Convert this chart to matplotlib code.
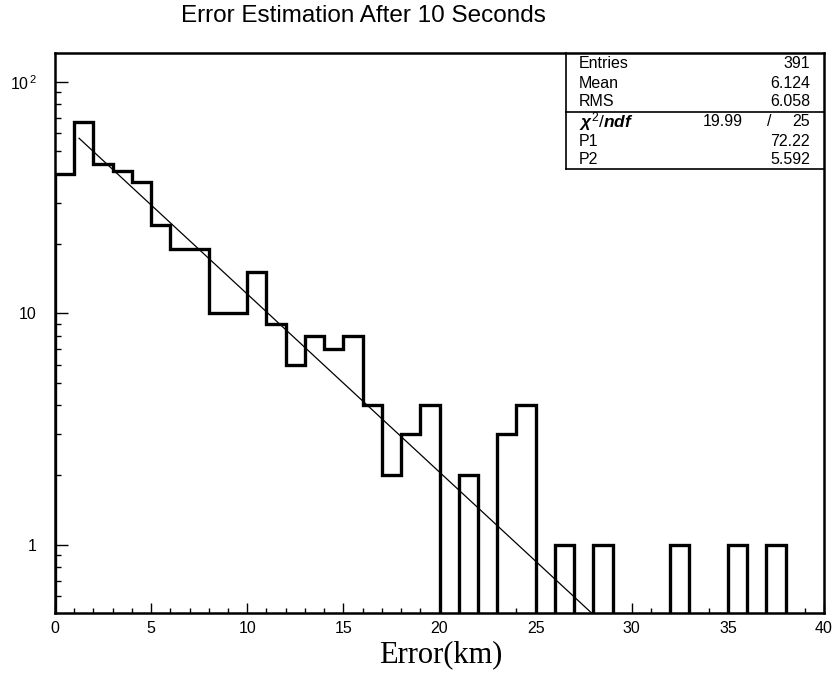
import numpy as np
import matplotlib
matplotlib.use("Agg")
import matplotlib.pyplot as plt
from matplotlib.ticker import FixedLocator, FixedFormatter, NullFormatter

plt.rcParams["mathtext.fontset"] = "custom"
plt.rcParams["mathtext.rm"] = "Liberation Sans"
plt.rcParams["mathtext.it"] = "Liberation Sans:italic:bold"

# histogram contents, 1 km bins from 0 to 40
bin_edges = np.arange(0, 41, 1)
counts = [40, 67, 44, 41, 37, 24, 19, 19, 10, 10,
          15, 9, 6, 8, 7, 8, 4, 2, 3, 4,
          0, 2, 0, 3, 4, 0, 1, 0, 1, 0,
          0, 0, 1, 0, 0, 1, 0, 1, 0, 0]

# fit line end points (exponential -> straight on log axis)
fit_x = [1.25, 28.0]
fit_y = [57.0, 0.5]

stat_names = ["Entries", "Mean", "RMS"]
stat_values = ["391", "6.124", "6.058"]
fit_names = ["P1", "P2"]
fit_values = ["72.22", "5.592"]
chi2_value = "19.99"
ndf_value = "25"

y_ticks = [1, 10, 100]
y_tick_labels = ["1", "10", r"$\mathrm{10^{\,2}}$"]

W, H = 836, 678
fig = plt.figure(figsize=(W / 100, H / 100), dpi=100)
ax = fig.add_axes([55 / W, 1 - 613 / H, 769 / W, 560 / H])

sans = "Liberation Sans"
fs = 11.5

# zero bins drawn down to below the axis so the outline drops to the floor
draw_counts = np.where(np.array(counts) > 0, counts, 1e-3)
ax.stairs(draw_counts, bin_edges, baseline=1e-3, color="black", lw=2.4)
ax.plot(fit_x, fit_y, color="black", lw=0.9)

ax.set_yscale("log")
ax.set_xlim(0, 40)
ax.set_ylim(0.508, 133)

for s in ax.spines.values():
    s.set_linewidth(1.8)

ax.xaxis.set_major_locator(FixedLocator(np.arange(0, 41, 5)))
ax.xaxis.set_minor_locator(FixedLocator(np.arange(0, 41, 1)))
ax.yaxis.set_major_locator(FixedLocator(y_ticks))
ax.yaxis.set_major_formatter(FixedFormatter(y_tick_labels))
minor_y = [m * 10.0 ** d for d in (-1, 0, 1) for m in range(2, 10)]
ax.yaxis.set_minor_locator(FixedLocator(minor_y))
ax.yaxis.set_minor_formatter(NullFormatter())

ax.tick_params(axis="x", which="major", direction="in", length=7, width=1,
               pad=6, labelsize=fs, top=False)
ax.tick_params(axis="x", which="minor", direction="in", length=3.5, width=1, top=False)
ax.tick_params(axis="y", which="major", direction="in", length=9, width=1,
               pad=13, labelsize=fs, right=False)
ax.tick_params(axis="y", which="minor", direction="in", length=4.5, width=1, right=False)
for lbl in ax.get_xticklabels() + ax.get_yticklabels():
    lbl.set_fontfamily(sans)

fig.text(363 / W, 1 - 16 / H, "Error Estimation After 10 Seconds",
         ha="center", va="center", fontsize=17.5, family=sans)
fig.text(441 / W, 1 - 655 / H, "Error(km)", ha="center", va="center",
         fontsize=22, family="Liberation Serif")


def fx(x):
    return x / W


def fy(y):
    return 1 - y / H


# statistics box
box_l, box_r, box_t, box_b, box_mid = 566, 824, 53, 169, 112
ax_box = dict(color="black", lw=1.2, transform=fig.transFigure)
fig.add_artist(plt.Line2D([fx(box_l), fx(box_l)], [fy(box_t), fy(box_b)], **ax_box))
fig.add_artist(plt.Line2D([fx(box_l), fx(box_r)], [fy(box_b), fy(box_b)], **ax_box))
fig.add_artist(plt.Line2D([fx(box_l), fx(box_r)], [fy(box_mid), fy(box_mid)], **ax_box))

val_x = 810
rows_top = [63, 83, 101]
for name, val, y in zip(stat_names, stat_values, rows_top):
    fig.text(fx(579), fy(y), name, ha="left", va="center", fontsize=fs, family=sans)
    fig.text(fx(val_x), fy(y), val, ha="right", va="center", fontsize=fs, family=sans)

fig.text(fx(579), fy(122), r"$\chi^2/ndf$", ha="left", va="center",
         fontsize=fs + 1, family=sans)
fig.text(fx(743), fy(122), chi2_value, ha="right", va="center", fontsize=fs, family=sans)
fig.text(fx(769), fy(122), "/", ha="center", va="center", fontsize=fs, family=sans)
fig.text(fx(val_x), fy(122), ndf_value, ha="right", va="center", fontsize=fs, family=sans)

for name, val, y in zip(fit_names, fit_values, [141, 159]):
    fig.text(fx(579), fy(y), name, ha="left", va="center", fontsize=fs, family=sans)
    fig.text(fx(val_x), fy(y), val, ha="right", va="center", fontsize=fs, family=sans)

fig.savefig("out.png", dpi=100)
